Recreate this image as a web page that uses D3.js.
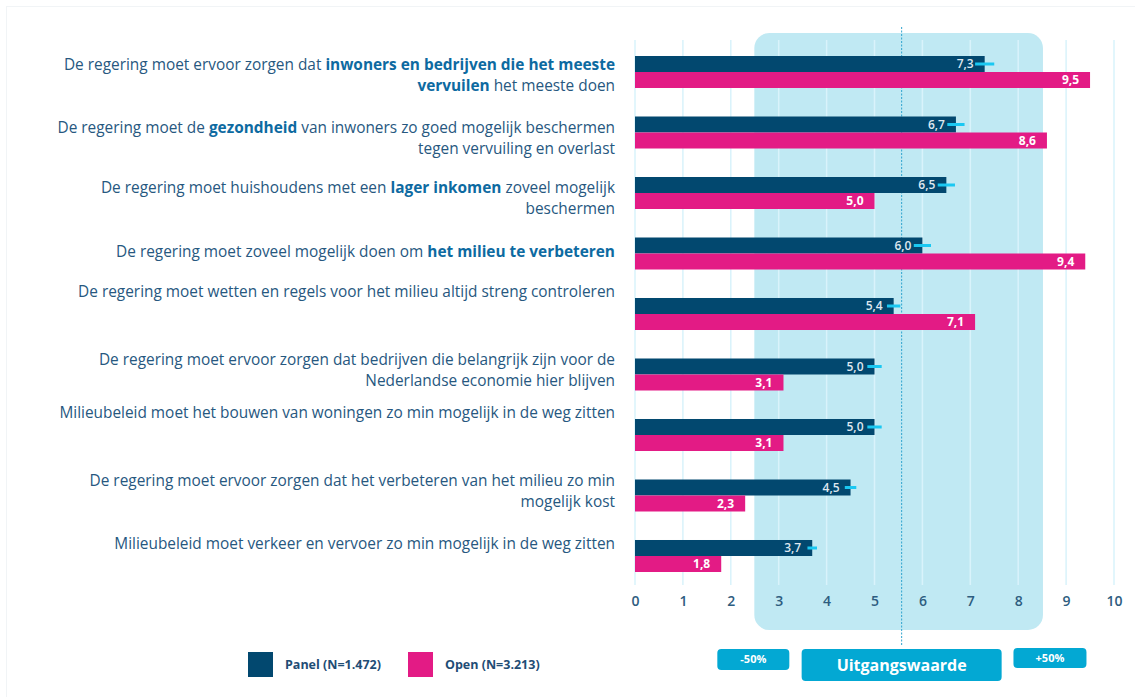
<!DOCTYPE html>
<html>
<head>
<meta charset="utf-8">
<script src="https://cdnjs.cloudflare.com/ajax/libs/d3/7.8.5/d3.min.js"></script>
<style>
  body { margin: 0; background: #fff; }
  svg { display: block; font-family: "Open Sans", "Noto Sans", sans-serif; }
</style>
</head>
<body>
<div id="chart"></div>
<script>
// statements, one entry per row; **...** marks the bold part, | splits lines
const statements = [
  "De regering moet ervoor zorgen dat **inwoners en bedrijven die het meeste**|**vervuilen** het meeste doen",
  "De regering moet de **gezondheid** van inwoners zo goed mogelijk beschermen|tegen vervuiling en overlast",
  "De regering moet huishoudens met een **lager inkomen** zoveel mogelijk|beschermen",
  "De regering moet zoveel mogelijk doen om **het milieu te verbeteren**",
  "De regering moet wetten en regels voor het milieu altijd streng controleren",
  "De regering moet ervoor zorgen dat bedrijven die belangrijk zijn voor de|Nederlandse economie hier blijven",
  "Milieubeleid moet het bouwen van woningen zo min mogelijk in de weg zitten",
  "De regering moet ervoor zorgen dat het verbeteren van het milieu zo min|mogelijk kost",
  "Milieubeleid moet verkeer en vervoer zo min mogelijk in de weg zitten"
]
const panelValues = [7.3, 6.7, 6.5, 6.0, 5.4, 5.0, 5.0, 4.5, 3.7]
const openValues  = [9.5, 8.6, 5.0, 9.4, 7.1, 3.1, 3.1, 2.3, 1.8]
// margin of the panel estimate (cyan whisker)
const panelMargin = [0.2, 0.18, 0.18, 0.18, 0.14, 0.15, 0.15, 0.12, 0.1]
const ticks = [0, 1, 2, 3, 4, 5, 6, 7, 8, 9, 10]
const series = [
  {key: "panel", name: "Panel (N=1.472)", color: "#02486f"},
  {key: "open",  name: "Open (N=3.213)",  color: "#e31b85"}
]

// layout: label first-line offset from the top of each row (px)
const labelShift = [9, 11, 11, 14, -6, 1, -6, 1, 4]

const W = 1135, H = 697
const fmt = v => d3.format(".1f")(v).replace(".", ",")
const rows = statements.map((s, i) => ({
  id: i, text: s, panel: panelValues[i], open: openValues[i], m: panelMargin[i]
}))
const baseline = d3.mean(panelValues)
const lo = baseline * 0.5, hi = baseline * 1.5

const svg = d3.select("#chart").append("svg")
  .attr("width", W).attr("height", H)

// faint card border
svg.append("rect")
  .attr("x", 6.5).attr("y", 6.5).attr("width", W - 4).attr("height", H)
  .attr("fill", "none").attr("stroke", "#f1f4f6")

const x = d3.scaleLinear().domain([0, 10]).range([635, 1114])
const y = d3.scaleBand()
  .domain(rows.map(d => d.id))
  .range([56, 572])
  .paddingInner(0.471)
  .paddingOuter(0)
const ySub = d3.scaleBand()
  .domain(series.map(s => s.key))
  .range([0, y.bandwidth()])

// shaded reference zone (-50% .. +50% around the baseline)
svg.append("rect")
  .attr("x", x(lo) - 14)
  .attr("y", 33)
  .attr("width", x(hi) - x(lo) + 22)
  .attr("height", 597)
  .attr("rx", 15)
  .attr("fill", "#c0e9f3")

// grid lines
svg.append("g").selectAll("line")
  .data(ticks)
  .join("line")
  .attr("x1", d => x(d)).attr("x2", d => x(d))
  .attr("y1", 40).attr("y2", 585)
  .attr("stroke", "#d9f3fb")
  .attr("stroke-width", 1.5)

// baseline dotted line
svg.append("line")
  .attr("x1", x(baseline)).attr("x2", x(baseline))
  .attr("y1", 27).attr("y2", 646)
  .attr("stroke", "#2fa4cf")
  .attr("stroke-width", 1)
  .attr("stroke-dasharray", "2,1.5")

// x axis
const xAxis = svg.append("g")
  .attr("transform", "translate(0,596)")
  .call(d3.axisBottom(x).tickValues(ticks).tickSize(0).tickPadding(0).tickFormat(d3.format("d")))
xAxis.select(".domain").remove()
xAxis.selectAll("text")
  .attr("dy", "0.71em")
  .attr("fill", "#2e5d80")
  .style("font-size", "14px")
  .style("font-weight", 600)
  .style("font-family", "'Open Sans', sans-serif")

// bars
const groups = svg.append("g").selectAll("g")
  .data(rows)
  .join("g")
  .attr("transform", d => `translate(0,${y(d.id)})`)

series.forEach(s => {
  groups.append("rect")
    .attr("x", x(0))
    .attr("y", ySub(s.key))
    .attr("width", d => x(d[s.key]) - x(0))
    .attr("height", ySub.bandwidth())
    .attr("fill", s.color)
})

// whiskers on the panel bars
groups.append("line")
  .attr("x1", d => x(d.panel - d.m))
  .attr("x2", d => x(d.panel + d.m))
  .attr("y1", ySub("panel") + ySub.bandwidth() / 2)
  .attr("y2", ySub("panel") + ySub.bandwidth() / 2)
  .attr("stroke", "#1ac8f2")
  .attr("stroke-width", 3)

// value labels
groups.append("text")
  .attr("x", d => x(d.panel) - 11)
  .attr("y", ySub("panel") + ySub.bandwidth() / 2)
  .attr("dy", "0.35em")
  .attr("text-anchor", "end")
  .attr("fill", "#dfe7ef")
  .style("font-size", "12px")
  .style("font-weight", 600)
  .text(d => fmt(d.panel))
groups.append("text")
  .attr("x", d => x(d.open) - 11)
  .attr("y", ySub("open") + ySub.bandwidth() / 2)
  .attr("dy", "0.35em")
  .attr("text-anchor", "end")
  .attr("fill", "#ffffff")
  .style("font-size", "12px")
  .style("font-weight", 700)
  .text(d => fmt(d.open))

// statement labels
const labels = svg.append("g").selectAll("text")
  .data(rows)
  .join("text")
  .attr("text-anchor", "end")
  .style("font-size", "15.4px")
  .attr("fill", "#27587f")

labels.each(function(d, i) {
  const t = d3.select(this)
  d.text.split("|").forEach((line, li) => {
    const parts = line.split("**")
    const ts = t.append("tspan")
      .attr("x", 615)
      .attr("y", y(d.id) + labelShift[i] + li * 21)
      .attr("dy", "0.35em")
    parts.forEach((p, pi) => {
      if (!p) return
      ts.append("tspan")
        .attr("font-weight", pi % 2 ? 700 : 400)
        .attr("fill", pi % 2 ? "#0d6aa1" : "#27587f")
        .text(p)
    })
  })
})

// legend
const legend = svg.append("g").selectAll("g")
  .data(series)
  .join("g")
  .attr("transform", (d, i) => `translate(${248 + i * 160},652)`)
legend.append("rect")
  .attr("width", 25).attr("height", 25)
  .attr("fill", d => d.color)
legend.append("text")
  .attr("x", 37).attr("y", 12.5).attr("dy", "0.35em")
  .attr("fill", "#1f4d75")
  .style("font-size", "12.5px")
  .style("font-weight", 700)
  .text(d => d.name)

// reference badges under the axis
const badges = [
  {label: "-50%", cx: x(lo) - 15, y: 649, w: 72, h: 21, size: 11},
  {label: "Uitgangswaarde", cx: x(baseline), y: 649, w: 200, h: 32, size: 16},
  {label: "+50%", cx: x(hi) + 15, y: 648, w: 73, h: 20, size: 11}
]
const badge = svg.append("g").selectAll("g")
  .data(badges)
  .join("g")
badge.append("rect")
  .attr("x", d => d.cx - d.w / 2).attr("y", d => d.y)
  .attr("width", d => d.w).attr("height", d => d.h)
  .attr("rx", 4)
  .attr("fill", "#03a8d3")
badge.append("text")
  .attr("x", d => d.cx).attr("y", d => d.y + d.h / 2)
  .attr("dy", "0.35em")
  .attr("text-anchor", "middle")
  .attr("fill", "#fff")
  .style("font-size", d => d.size + "px")
  .style("font-weight", 700)
  .text(d => d.label)
</script>
</body>
</html>
